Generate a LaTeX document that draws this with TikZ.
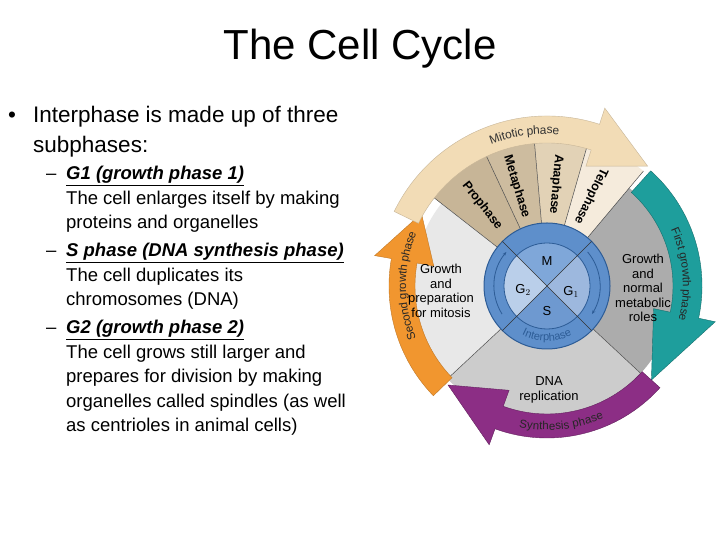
\documentclass[tikz,border=0pt]{standalone}
\usepackage{fontspec}
\setmainfont{Liberation Sans}
\usetikzlibrary{decorations.text,arrows.meta}
\definecolor{tanA}{HTML}{C7B597}
\definecolor{tanB}{HTML}{CDBC9F}
\definecolor{tanC}{HTML}{E2D2B6}
\definecolor{tanD}{HTML}{F5EBDC}
\definecolor{mitband}{HTML}{F2DCB6}
\definecolor{tealc}{HTML}{1E9E9C}
\definecolor{purp}{HTML}{8C2E85}
\definecolor{orng}{HTML}{F1962F}
\definecolor{ringb}{HTML}{5E8FCB}
\definecolor{darkb}{HTML}{2D5C96}
\definecolor{qM}{HTML}{7FA7D9}
\definecolor{qG}{HTML}{BACFEA}
\definecolor{qGa}{HTML}{9DB8DE}
\definecolor{qS}{HTML}{6E99D0}
\newcommand\cycband[7]{% color, a1, a2, tip, r1, r2, border
  \fill[#1,draw=#7,line width=0.4pt] ({#2}:{#5}) arc[start angle={#2},end angle={#3},radius={#5}]
    -- ({#3}:{#5-17}) -- ({#4}:{(#5+#6)/2}) -- ({#3}:{#6+17}) -- ({#3}:{#6})
    arc[start angle={#3},end angle={#2},radius={#6}] -- cycle;}
\tikzset{
  lab/.style={font=\fontsize{13}{14.5}\selectfont,align=center,inner sep=0pt},
  sub/.style={font=\fontsize{12.5}{12.5}\selectfont\bfseries,inner sep=0pt},
  ln/.style={anchor=base west,inner sep=0pt,font=\fontsize{18.5}{18.5}\selectfont},
  big/.style={anchor=base west,inner sep=0pt,font=\fontsize{22.5}{22.5}\selectfont},
}
\begin{document}
\begin{tikzpicture}[x=1pt,y=1pt]
\useasboundingbox[fill=white] (0,0) rectangle (720,540);
\node[anchor=base,inner sep=0pt,font=\fontsize{42}{42}\selectfont] (title) at (360,480) {The Cell Cycle};
\node[big] (b1) at (8,417) {•};
\node[big] (t1) at (33,417) {Interphase is made up of three};
\node[big] (t2) at (33,387) {subphases:};
\node[ln] (d1) at (46,360) {–};
\node[ln] (a1) at (66,360) {\underline{\textbf{\textit{G1 (growth phase 1)}}}};
\node[ln] (a2) at (66,335.5) {The cell enlarges itself by making};
\node[ln] (a3) at (66,311) {proteins and organelles};
\node[ln] (d2) at (46,283) {–};
\node[ln] (b2) at (66,283) {\underline{\textbf{\textit{S phase (DNA synthesis phase)}}}};
\node[ln] (b3) at (66,258.5) {The cell duplicates its};
\node[ln] (b4) at (66,234) {chromosomes (DNA)};
\node[ln] (d3) at (46,206) {–};
\node[ln] (c1) at (66,206) {\underline{\textbf{\textit{G2 (growth phase 2)}}}};
\node[ln] (c2) at (66,181.5) {The cell grows still larger and};
\node[ln] (c3) at (66,157) {prepares for division by making};
\node[ln] (c4) at (66,132.5) {organelles called spindles (as well};
\node[ln] (c5) at (66,108) {as centrioles in animal cells)};
\begin{scope}[shift={(547,254)}]
  \fill[tanA] (0,0) -- (142:150) arc[start angle=142,end angle=115,radius=150] -- cycle;
  \fill[tanB] (0,0) -- (115:150) arc[start angle=115,end angle=95,radius=150] -- cycle;
  \fill[tanC] (0,0) -- (95:150) arc[start angle=95,end angle=74,radius=150] -- cycle;
  \fill[tanD] (0,0) -- (74:150) arc[start angle=74,end angle=50,radius=150] -- cycle;
  \fill[gray!65] (0,0) -- (50:128) arc[start angle=50,end angle=-43,radius=128] -- cycle;
  \fill[gray!40] (0,0) -- (-43:136) arc[start angle=-43,end angle=-137,radius=136] -- cycle;
  \fill[gray!18] (0,0) -- (-137:134) arc[start angle=-137,end angle=-218,radius=134] -- cycle;
  \foreach \a/\r in {142/150,115/150,95/150,74/150,50/150,-43/131,-137/134}
    \draw[black!70,line width=0.5pt] (0,0) -- (\a:\r);
  \cycband{tealc}{48}{-12}{-42}{126}{155}{tealc!70!black}
  \cycband{purp}{-42}{-110}{-135}{128}{152}{purp!70!black}
  \cycband{orng}{-136}{-190}{-210}{132}{158}{orng!80!black}
  \cycband{mitband}{154}{72}{50}{143}{170}{tanA}
  \path[decorate,decoration={text along path,text align=center,raise=-4pt,
    text={|\fontsize{12}{12}\selectfont\color{black!80}|Mitotic phase}}]
    (125:156) arc[start angle=125,end angle=72,radius=156];
  \path[decorate,decoration={text along path,text align=center,raise=-4pt,
    text={|\fontsize{11.5}{11.5}\selectfont\color{black!85}|First growth phase}}]
    (42:140) arc[start angle=42,end angle=-32,radius=140];
  \path[decorate,decoration={text along path,text align=center,raise=-4pt,
    text={|\fontsize{11.5}{11.5}\selectfont\color{black!85}|Synthesis phase}}]
    (-112:140) arc[start angle=-112,end angle=-56,radius=140];
  \path[decorate,decoration={text along path,text align=center,raise=-4pt,
    text={|\fontsize{11.5}{11.5}\selectfont\color{black!85}|Second growth phase}}]
    (-148:145) arc[start angle=-148,end angle=-212,radius=145];
  \node[sub,rotate=-52] (pro) at (129:103) {Prophase};
  \node[sub,rotate=-73] (met) at (107:104) {Metaphase};
  \node[sub,rotate=-95] (ana) at (85:102) {Anaphase};
  \node[sub,rotate=-116] (tel) at (64:100) {Telophase};
  \node[lab] (gl) at (-106,-5) {Growth\\and\\preparation\\for mitosis};
  \node[lab] (gr) at (96,-2) {Growth\\and\\normal\\metabolic\\roles};
  \node[lab] (dna) at (2,-104) {DNA\\replication};
  \fill[ringb,draw=darkb,line width=1pt] (0,0) circle[radius=63];
  \fill[qM] (0,0) -- (45:43) arc[start angle=45,end angle=135,radius=43] -- cycle;
  \fill[qG] (0,0) -- (135:43) arc[start angle=135,end angle=225,radius=43] -- cycle;
  \fill[qS] (0,0) -- (225:43) arc[start angle=225,end angle=315,radius=43] -- cycle;
  \fill[qGa] (0,0) -- (-45:43) arc[start angle=-45,end angle=45,radius=43] -- cycle;
  \draw[darkb,line width=0.8pt] (0,0) circle[radius=43];
  \draw[black!80,line width=0.6pt] (135:63) -- (-45:63) (45:63) -- (-135:63);
  \draw[darkb,line width=0.8pt,-{Stealth[length=4pt]}] (212:53) arc[start angle=212,end angle=140,radius=53];
  \draw[darkb,line width=0.8pt,-{Stealth[length=4pt]}] (40:53) arc[start angle=40,end angle=-32,radius=53];
  \path[decorate,decoration={text along path,text align=center,
    text={|\fontsize{11}{11}\selectfont\color{darkb}|Interphase}}]
    (-128:55) arc[start angle=-128,end angle=-52,radius=55];
  \node[font=\fontsize{13}{13}\selectfont,inner sep=0pt] (m) at (0,25) {M};
  \node[font=\fontsize{13}{13}\selectfont,inner sep=0pt] (g2) at (-24,-4) {G$_2$};
  \node[font=\fontsize{13}{13}\selectfont,inner sep=0pt] (g1) at (24,-6) {G$_1$};
  \node[font=\fontsize{13}{13}\selectfont,inner sep=0pt] (s) at (0,-25) {S};
\end{scope}
\end{tikzpicture}
\end{document}
